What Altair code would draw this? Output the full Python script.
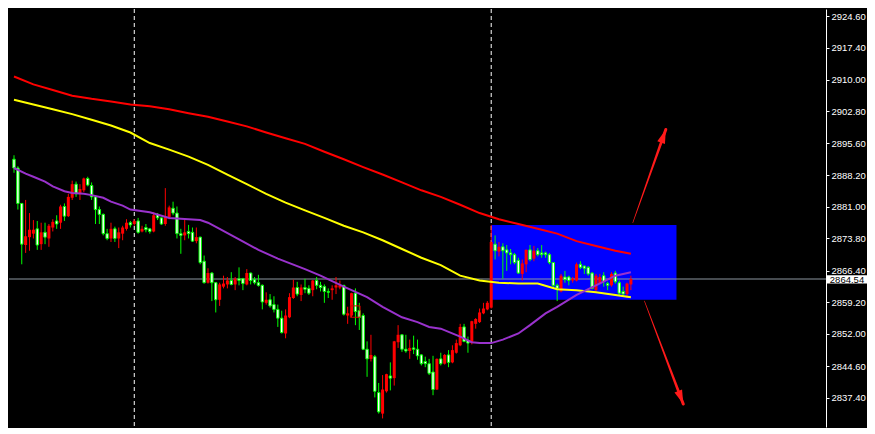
import altair as alt
import pandas as pd

# ---------------- data ----------------
opens = [2891.9, 2889.9, 2881.8, 2872.3, 2874.1, 2874.9, 2876.0, 2872.5, 2875.2, 2873.8,
         2876.3, 2877.8, 2877.4, 2881.1, 2878.9, 2883.1, 2886.2, 2884.0, 2884.8, 2887.5,
         2885.9, 2883.3, 2880.4, 2879.3, 2874.9, 2873.8, 2876.0, 2873.8, 2874.9, 2876.0,
         2877.4, 2877.1, 2877.8, 2875.4, 2876.3, 2876.0, 2875.4, 2879.3, 2878.5, 2877.1,
         2878.7, 2880.7, 2879.6, 2874.9, 2874.5, 2875.4, 2875.2, 2873.2, 2874.1, 2868.6,
         2863.7, 2865.9, 2863.7, 2859.8, 2862.8, 2863.3, 2864.2, 2863.3, 2864.6, 2864.6,
         2863.3, 2865.9, 2864.4, 2863.7, 2863.1, 2859.1, 2859.8, 2858.7, 2857.6, 2855.6,
         2852.1, 2855.8, 2860.2, 2862.6, 2860.9, 2862.6, 2862.4, 2862.0, 2864.2, 2863.1,
         2862.8, 2861.7, 2862.0, 2862.6, 2862.6, 2863.1, 2856.2, 2856.2, 2861.3, 2857.3,
         2856.2, 2848.5, 2846.3, 2846.8, 2838.6, 2833.8, 2838.9, 2842.4, 2841.9, 2850.1,
         2851.8, 2848.5, 2848.1, 2848.8, 2848.5, 2847.2, 2845.7, 2845.2, 2843.3, 2839.3,
         2846.3, 2845.2, 2847.2, 2845.5, 2847.7, 2849.4, 2853.6, 2850.5, 2849.9, 2854.3,
         2854.7, 2856.7, 2857.6, 2858.0, 2872.5, 2870.8, 2871.9, 2871.2, 2870.5, 2870.1,
         2868.8, 2865.7, 2867.9, 2871.2, 2869.2, 2871.0, 2870.5, 2870.5, 2870.1, 2868.3,
         2863.1, 2861.7, 2865.0, 2865.0, 2864.2, 2864.2, 2867.9, 2867.5, 2867.2, 2865.9,
         2862.0, 2863.5, 2865.3, 2863.5, 2863.1, 2865.9, 2863.7, 2861.7, 2861.1, 2863.3]
highs = [2892.8, 2890.3, 2881.8, 2882.6, 2879.6, 2878.0, 2877.8, 2877.4, 2877.4, 2877.1,
         2878.2, 2879.1, 2881.5, 2881.8, 2884.0, 2887.0, 2886.8, 2886.2, 2887.7, 2887.9,
         2886.6, 2883.7, 2881.1, 2879.5, 2876.0, 2877.4, 2876.5, 2876.3, 2876.7, 2878.2,
         2877.8, 2878.2, 2878.5, 2876.7, 2877.1, 2876.2, 2879.8, 2879.6, 2878.6, 2885.3,
         2881.3, 2882.2, 2881.1, 2876.0, 2878.2, 2876.9, 2876.3, 2876.3, 2874.2, 2869.9,
         2867.0, 2866.1, 2863.8, 2863.7, 2865.3, 2865.0, 2866.1, 2865.0, 2867.2, 2864.8,
         2866.8, 2866.0, 2865.0, 2865.5, 2863.3, 2861.5, 2861.1, 2860.6, 2858.7, 2857.3,
         2857.6, 2861.3, 2864.4, 2863.9, 2863.3, 2864.6, 2863.1, 2864.3, 2865.0, 2863.9,
         2863.3, 2862.4, 2863.1, 2865.0, 2864.2, 2863.2, 2858.2, 2861.4, 2862.4, 2859.1,
         2856.7, 2850.3, 2851.8, 2847.2, 2840.8, 2842.6, 2842.9, 2845.5, 2850.4, 2854.0,
         2851.9, 2851.8, 2850.7, 2851.6, 2850.7, 2847.4, 2846.8, 2846.3, 2847.0, 2846.4,
         2847.7, 2847.4, 2848.3, 2849.4, 2850.7, 2854.3, 2854.3, 2851.4, 2855.0, 2855.6,
         2857.8, 2859.1, 2859.5, 2876.9, 2874.5, 2873.0, 2872.7, 2872.3, 2871.4, 2870.5,
         2869.4, 2869.0, 2871.3, 2872.3, 2872.1, 2871.6, 2872.3, 2870.8, 2870.5, 2868.4,
         2863.5, 2865.7, 2866.4, 2865.3, 2865.0, 2868.3, 2868.6, 2867.6, 2867.5, 2866.1,
         2865.7, 2865.7, 2866.1, 2863.9, 2866.1, 2866.4, 2864.2, 2862.8, 2863.7, 2865.3]
lows = [2888.8, 2880.4, 2867.9, 2870.5, 2871.0, 2873.8, 2871.2, 2871.2, 2872.5, 2871.9,
        2875.4, 2876.0, 2876.0, 2877.8, 2878.7, 2882.6, 2883.3, 2882.6, 2884.4, 2885.7,
        2882.6, 2877.1, 2877.1, 2874.5, 2873.4, 2873.0, 2873.0, 2871.6, 2873.4, 2875.6,
        2876.3, 2876.7, 2874.9, 2875.2, 2875.2, 2874.9, 2875.2, 2878.0, 2876.9, 2876.7,
        2878.2, 2879.1, 2873.8, 2870.3, 2873.4, 2873.8, 2873.0, 2872.7, 2867.9, 2863.5,
        2863.5, 2859.5, 2856.9, 2858.4, 2862.4, 2862.4, 2863.1, 2862.0, 2863.1, 2862.0,
        2863.1, 2863.3, 2863.3, 2862.8, 2857.6, 2858.7, 2858.0, 2856.9, 2853.6, 2852.1,
        2851.0, 2855.6, 2860.0, 2860.6, 2859.5, 2861.3, 2860.9, 2860.6, 2862.2, 2861.7,
        2859.1, 2860.2, 2859.8, 2861.1, 2862.2, 2856.2, 2854.3, 2855.8, 2854.0, 2852.9,
        2848.3, 2842.2, 2845.7, 2837.5, 2833.8, 2832.7, 2838.6, 2839.1, 2840.2, 2848.8,
        2847.9, 2847.7, 2846.3, 2847.4, 2846.1, 2844.8, 2844.4, 2842.6, 2838.0, 2839.2,
        2844.8, 2845.0, 2844.4, 2845.3, 2847.5, 2849.2, 2850.1, 2847.7, 2849.6, 2853.2,
        2854.5, 2856.5, 2857.4, 2857.8, 2869.0, 2869.7, 2864.6, 2866.4, 2867.9, 2867.9,
        2865.7, 2864.2, 2866.1, 2868.6, 2868.6, 2869.7, 2869.4, 2869.4, 2867.9, 2862.4,
        2859.5, 2861.5, 2863.7, 2863.1, 2863.7, 2864.0, 2866.8, 2865.7, 2865.3, 2862.2,
        2861.7, 2863.3, 2862.8, 2862.0, 2862.8, 2863.5, 2860.9, 2860.9, 2860.2, 2862.0]
closes = [2889.9, 2881.8, 2872.5, 2874.3, 2875.8, 2875.8, 2872.3, 2875.2, 2874.1, 2876.7,
          2877.6, 2877.1, 2881.1, 2878.9, 2883.3, 2886.2, 2884.0, 2885.1, 2887.5, 2886.0,
          2883.3, 2880.4, 2879.3, 2874.9, 2873.8, 2876.0, 2873.8, 2875.2, 2876.3, 2877.4,
          2876.9, 2877.8, 2875.2, 2876.0, 2875.8, 2875.4, 2879.1, 2878.5, 2877.1, 2878.7,
          2880.9, 2879.6, 2874.9, 2874.5, 2875.2, 2874.9, 2873.2, 2874.1, 2868.3, 2863.7,
          2865.9, 2863.7, 2859.8, 2863.3, 2863.5, 2864.2, 2863.3, 2864.6, 2864.2, 2863.5,
          2865.9, 2864.2, 2863.7, 2863.1, 2859.3, 2859.8, 2858.4, 2857.6, 2855.6, 2852.3,
          2856.2, 2860.4, 2862.6, 2861.1, 2862.6, 2862.2, 2861.3, 2864.2, 2863.1, 2862.6,
          2861.7, 2861.5, 2862.4, 2863.1, 2863.1, 2856.5, 2856.7, 2861.3, 2857.1, 2855.8,
          2848.5, 2846.3, 2847.2, 2838.9, 2834.2, 2839.3, 2842.8, 2841.9, 2850.3, 2851.8,
          2848.5, 2848.1, 2848.8, 2848.5, 2847.0, 2845.2, 2845.2, 2843.0, 2839.3, 2846.3,
          2845.2, 2847.2, 2845.5, 2848.3, 2849.9, 2853.6, 2850.3, 2849.9, 2854.9, 2855.4,
          2856.9, 2857.8, 2859.1, 2873.0, 2871.0, 2871.9, 2871.0, 2870.5, 2870.1, 2868.3,
          2865.9, 2868.1, 2871.2, 2869.0, 2871.0, 2870.1, 2870.1, 2870.1, 2868.3, 2863.1,
          2862.4, 2865.3, 2864.4, 2864.2, 2864.6, 2867.9, 2867.2, 2867.0, 2865.7, 2862.4,
          2865.3, 2865.0, 2863.9, 2863.1, 2865.7, 2863.9, 2861.3, 2861.1, 2863.5, 2864.54]

# moving averages (sampled at candle indices)
ma_idx = [0, 5, 10, 15, 20, 25, 30, 35, 40, 45, 50, 55, 60, 65, 70, 75, 80, 85, 90, 95,
          100, 105, 110, 115, 120, 125, 130, 135, 140, 145, 150, 155, 159]
ma_red = [2910.8, 2909.0, 2907.7, 2906.4, 2905.7, 2905.1, 2904.4, 2904.0, 2903.3, 2902.4,
          2901.6, 2900.5, 2899.4, 2898.0, 2896.7, 2895.4, 2893.6, 2891.9, 2890.1, 2888.4,
          2886.6, 2884.8, 2883.3, 2881.5, 2879.6, 2878.2, 2877.1, 2876.0, 2874.9, 2873.2,
          2872.1, 2871.0, 2870.3]
ma_yellow = [2905.5, 2904.4, 2903.3, 2902.2, 2900.9, 2899.6, 2898.0, 2895.6, 2894.1, 2892.5,
             2890.6, 2888.4, 2886.2, 2884.0, 2882.0, 2880.2, 2878.5, 2876.7, 2875.2, 2873.4,
             2871.4, 2869.4, 2867.7, 2865.3, 2864.2, 2863.7, 2863.5, 2863.5, 2862.2, 2862.0,
             2861.5, 2860.9, 2860.4]
pur_idx = [0, 3, 5, 8, 10, 13, 15, 18, 20, 23, 25, 28, 30, 35, 40, 45, 48, 50, 53, 58,
           63, 68, 75, 79, 85, 91, 95, 100, 104, 107, 110, 115, 118, 120, 123, 126, 130, 133, 137, 140,
           145, 150, 155, 159]
ma_purple = [2889.9, 2888.6, 2887.9, 2886.8, 2885.7, 2884.6, 2884.2, 2884.0, 2883.7, 2883.1,
             2882.2, 2881.3, 2880.4, 2879.8, 2878.5, 2878.2, 2878.0, 2877.4, 2876.0, 2873.6,
             2871.2, 2869.2, 2866.8, 2865.3, 2862.8, 2860.4, 2858.2, 2855.8, 2854.7, 2853.6,
             2853.2, 2851.4, 2850.1, 2849.9, 2849.9, 2850.7, 2852.1, 2854.0, 2856.7, 2858.2,
             2860.9, 2863.1, 2865.3, 2866.1]

separators = [31, 123]
tick_values = [2924.6, 2917.4, 2910.0, 2902.8, 2895.6, 2888.2, 2881.0, 2873.8, 2866.4,
               2859.2, 2852.0, 2844.6, 2837.4]

# drawn objects
box = {"i1": 123, "i2": 170.75, "p1": 2876.9, "p2": 2859.8}
small_box = {"i1": 86.7, "i2": 89.2, "p1": 2858.4, "p2": 2855.8}
arrow_id = ["up", "up", "down", "down"]
arrow_i = [159.5, 168.0, 162.5, 172.5]
arrow_p = [2877.4, 2898.7, 2859.5, 2836.0]
arrow_w = [0.6, 3.0, 0.6, 3.0]
head_i = [168.0, 172.5]
head_p = [2898.7, 2836.0]
head_angle = [19.7, 159.1]

# ---------------- chart ----------------
W, H = 817, 418
FONT = "Liberation Sans"
xs = alt.Scale(domain=[0, 208], nice=False, zero=False)
ys = alt.Scale(domain=[2830.74, 2926.21], nice=False, zero=False)
yaxis = alt.Axis(orient="right", values=tick_values, format=".2f", labelColor="white",
                 labelFont=FONT, labelFontSize=9.5, domainColor="white", tickColor="white",
                 tickSize=3, labelPadding=2, grid=False, title=None, labelOverlap=False)


def X(f):
    return alt.X(f, type="quantitative", scale=xs, axis=None)


def Y(f):
    return alt.Y(f, type="quantitative", scale=ys, axis=yaxis)


df = pd.DataFrame({"i": list(range(len(opens))), "open": opens, "high": highs,
                   "low": lows, "close": closes})
df["bull"] = df["close"] >= df["open"]
last = closes[-1]

blue = alt.Chart(pd.DataFrame([box])).mark_rect(color="#0000ff", clip=True).encode(
    x=X("i1"), x2="i2", y=Y("p1"), y2="p2")

price_line = alt.Chart(pd.DataFrame({"p": [last]})).mark_rule(
    color="#8c96a0", strokeWidth=1).encode(y=Y("p"))

seps = alt.Chart(pd.DataFrame({"s": separators})).mark_rule(
    color="white", strokeDash=[4, 3], strokeWidth=1).encode(x=X("s"))

wicks = alt.Chart(df).mark_rule(strokeWidth=1, clip=True).encode(
    x=X("i"), y=Y("low"), y2="high",
    color=alt.condition("datum.bull", alt.value("#ff0000"), alt.value("#00ff00")))

bull_body = alt.Chart(df).transform_filter("datum.bull").mark_bar(
    width=3, color="#ff0000", clip=True).encode(x=X("i"), y=Y("open"), y2="close")

bear_body = alt.Chart(df).transform_filter("!datum.bull").mark_bar(
    width=2.4, fill="#ffffff", stroke="#00ff00", strokeWidth=1, clip=True).encode(
    x=X("i"), y=Y("open"), y2="close")

ma_df = pd.DataFrame({"i": ma_idx, "red": ma_red, "yellow": ma_yellow})
red_line = alt.Chart(ma_df).mark_line(color="#ff0000", strokeWidth=2, clip=True).encode(
    x=X("i"), y=Y("red"))
yellow_line = alt.Chart(ma_df).mark_line(color="#ffff00", strokeWidth=2, clip=True).encode(
    x=X("i"), y=Y("yellow"))
pur_df = pd.DataFrame({"i": pur_idx, "v": ma_purple})
purple_line = alt.Chart(pur_df).mark_line(color="#9932cc", strokeWidth=2, clip=True).encode(
    x=X("i"), y=Y("v"))

small = alt.Chart(pd.DataFrame([small_box])).mark_rect(
    fillOpacity=0, stroke="#d00000", strokeWidth=1, clip=True).encode(
    x=X("i1"), x2="i2", y=Y("p1"), y2="p2")

arrows_df = pd.DataFrame({"id": arrow_id, "i": arrow_i, "p": arrow_p, "w": arrow_w,
                          "o": [0, 1, 0, 1]})
shafts = alt.Chart(arrows_df).mark_trail(color="#ff1a1a", clip=True).encode(
    x=X("i"), y=Y("p"), detail="id:N", order="o:Q",
    size=alt.Size("w:Q", scale=None, legend=None))
heads = alt.Chart(pd.DataFrame({"i": head_i, "p": head_p, "a": head_angle})).mark_point(
    shape="M0,0L0.45,1.55L-0.45,1.55Z", filled=True, size=324, color="#ff1a1a",
    opacity=1, strokeWidth=0).encode(
    x=X("i"), y=Y("p"), angle=alt.Angle("a:Q", scale=None))

label_df = pd.DataFrame({"p": [last], "t": [f"{last:.2f}"]})
label_box = alt.Chart(label_df).mark_point(
    shape="M-2,-0.37L2,-0.37L2,0.45L-2,0.45Z", filled=True, size=400, color="white",
    opacity=1, strokeWidth=0).encode(x=alt.value(W + 21), y=Y("p"))
label_text = alt.Chart(label_df).mark_text(
    color="black", font=FONT, fontSize=9.5, align="center", baseline="middle", dy=0.5).encode(
    x=alt.value(W + 21), y=Y("p"), text="t:N")

chart = alt.layer(
    blue, price_line, seps, wicks, bull_body, bear_body, small,
    yellow_line, purple_line, red_line, shafts, heads, label_box, label_text
).properties(width=W, height=H, padding=0, background="black").configure_view(
    stroke=None)

chart.save("out.html", embed_options={"renderer": "svg", "actions": False})
